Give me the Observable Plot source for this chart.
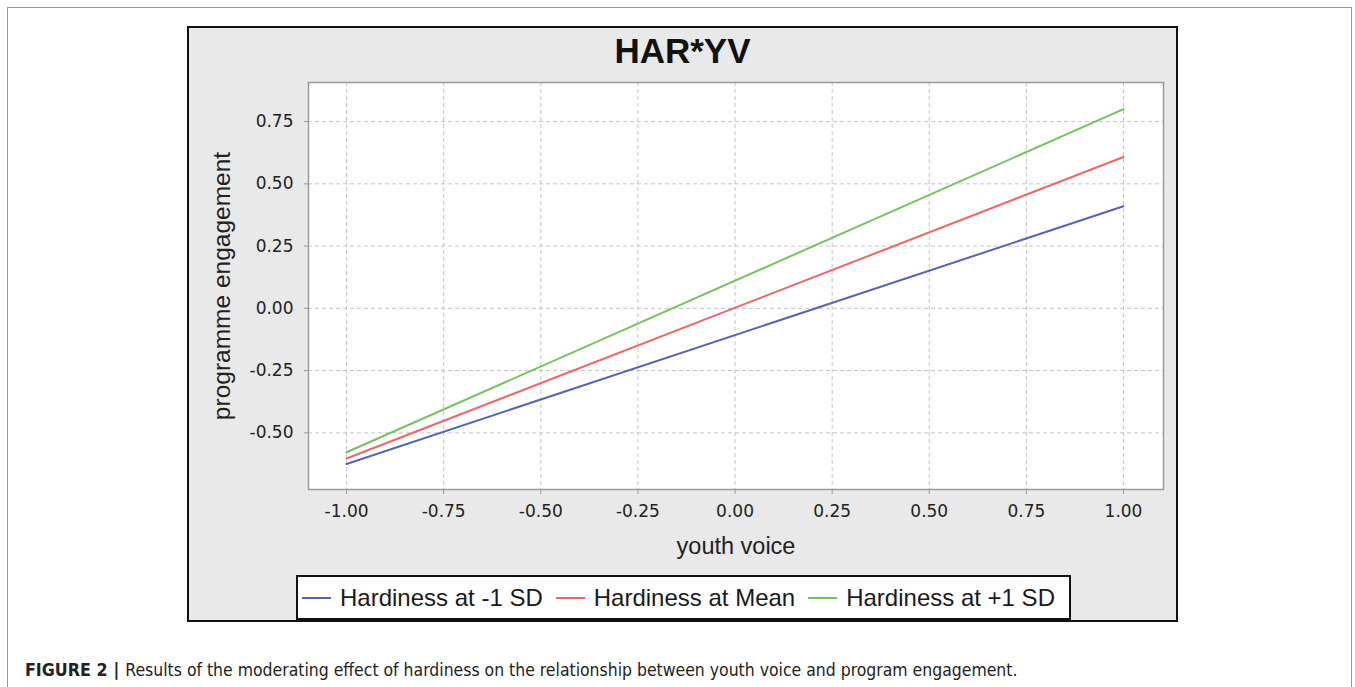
<!DOCTYPE html>
<html>
<head>
<meta charset="utf-8">
<script src="https://cdn.jsdelivr.net/npm/d3@7"></script>
<script src="https://cdn.jsdelivr.net/npm/@observablehq/plot@0.6"></script>
<style>
  html, body { margin: 0; padding: 0; background: #fff; width: 1355px; height: 687px; overflow: hidden; }
  #outer { position: absolute; left: 7px; top: 7px; width: 1345px; height: 720px; border: 1.5px solid #999; box-sizing: border-box; }
  #panel { position: absolute; left: 187px; top: 26px; width: 991px; height: 596px; background: #e8e9e8; border: 2px solid #111; box-sizing: border-box; }
  #title { position: absolute; left: 187px; width: 991px; top: 33px; text-align: center; font: bold 35px/35px "Liberation Sans", Arial, sans-serif; color: #111; }
  #chart { position: absolute; left: 189px; top: 70px; }
  #legend { position: absolute; left: 296px; top: 575px; width: 775px; height: 45px; background: #fff; border: 2px solid #111; box-sizing: border-box; display: flex; align-items: center; padding-left: 4px; font: 24px "Liberation Sans", Arial, sans-serif; color: #1a1a1a; white-space: nowrap; }
  .sw { display: inline-block; width: 29px; height: 0; border-top: 2px solid; margin-right: 9px; }
  .lt { margin-right: 13px; }
  #caption { position: absolute; left: 25px; top: 660px; font: 17.7px "DejaVu Sans Condensed", "Liberation Sans Narrow", sans-serif; color: #222; white-space: nowrap; }
  #caption b { font-weight: bold; }
  #caption .bar { font-weight: bold; margin: 0 6px 0 6px; }
  #caption .body { font-size: 17.45px; }
</style>
</head>
<body>
<div id="outer"></div>
<div id="panel"></div>
<div id="title"></div>
<div id="chart"></div>
<div id="legend"></div>
<div id="caption"><b>FIGURE 2</b><span class="bar">|</span><span class="body">Results of the moderating effect of hardiness on the relationship between youth voice and program engagement.</span></div>
<script>
// ---- data ----
const titleText = "HAR*YV";
const xLabel = "youth voice";
const yLabel = "programme engagement";
const youthVoice = [-1, 1];
const seriesNames = ["Hardiness at -1 SD", "Hardiness at Mean", "Hardiness at +1 SD"];
const seriesColors = ["#5563bb", "#f06565", "#74c35e"];
const lowSD = [-0.625, 0.41];
const meanHard = [-0.603, 0.608];
const highSD = [-0.578, 0.80];
const xTicks = [-1, -0.75, -0.5, -0.25, 0, 0.25, 0.5, 0.75, 1];
const yTicks = [-0.5, -0.25, 0, 0.25, 0.5, 0.75];

const seriesValues = [lowSD, meanHard, highSD];
const rows = [];
seriesNames.forEach((name, i) => {
  youthVoice.forEach((x, j) => rows.push({series: name, x, y: seriesValues[i][j]}));
});

document.getElementById("title").textContent = titleText;

const fmt = d => d.toFixed(2);
const tickFont = "DejaVu Sans, sans-serif";
const labelFont = "Liberation Sans, Arial, sans-serif";

const plot = Plot.plot({
  width: 986,
  height: 500,
  marginLeft: 119,
  marginRight: 12,
  marginTop: 12,
  marginBottom: 81,
  style: {background: "transparent", overflow: "visible"},
  x: {domain: [-1.098, 1.103]},
  y: {domain: [-0.7275, 0.907]},
  color: {domain: seriesNames, range: seriesColors},
  marks: [
    Plot.frame({fill: "white", stroke: null}),
    Plot.gridX(xTicks, {stroke: "#c4c4c4", strokeOpacity: 1, strokeDasharray: "4,3"}),
    Plot.gridY(yTicks, {stroke: "#c4c4c4", strokeOpacity: 1, strokeDasharray: "4,3"}),
    Plot.axisX({ticks: xTicks, tickFormat: fmt, tickSize: 5, tickPadding: 10, label: null, fontSize: 17, fontFamily: tickFont, stroke: "#999", fill: "#222"}),
    Plot.axisY({ticks: yTicks, tickFormat: fmt, tickSize: 4, tickPadding: 11, label: null, fontSize: 17, fontFamily: tickFont, stroke: "#999", fill: "#222"}),
    Plot.line(rows, {x: "x", y: "y", z: "series", stroke: "series", strokeWidth: 2}),
    Plot.frame({stroke: "#9a9a9a", strokeWidth: 1.5}),
    Plot.text([xLabel], {text: d => d, frameAnchor: "bottom", dy: 48, lineAnchor: "top", textAnchor: "middle", fontSize: 23.5, fontFamily: labelFont, fill: "#222"}),
    Plot.text([yLabel], {text: d => d, frameAnchor: "left", dx: -86, rotate: -90, lineAnchor: "middle", textAnchor: "middle", fontSize: 24.5, fontFamily: labelFont, fill: "#222"})
  ]
});
document.getElementById("chart").appendChild(plot);

const legend = document.getElementById("legend");
seriesNames.forEach((name, i) => {
  const sw = document.createElement("span");
  sw.className = "sw";
  sw.style.borderTopColor = seriesColors[i];
  const t = document.createElement("span");
  t.className = "lt";
  t.textContent = name;
  legend.appendChild(sw);
  legend.appendChild(t);
});
</script>
</body>
</html>
